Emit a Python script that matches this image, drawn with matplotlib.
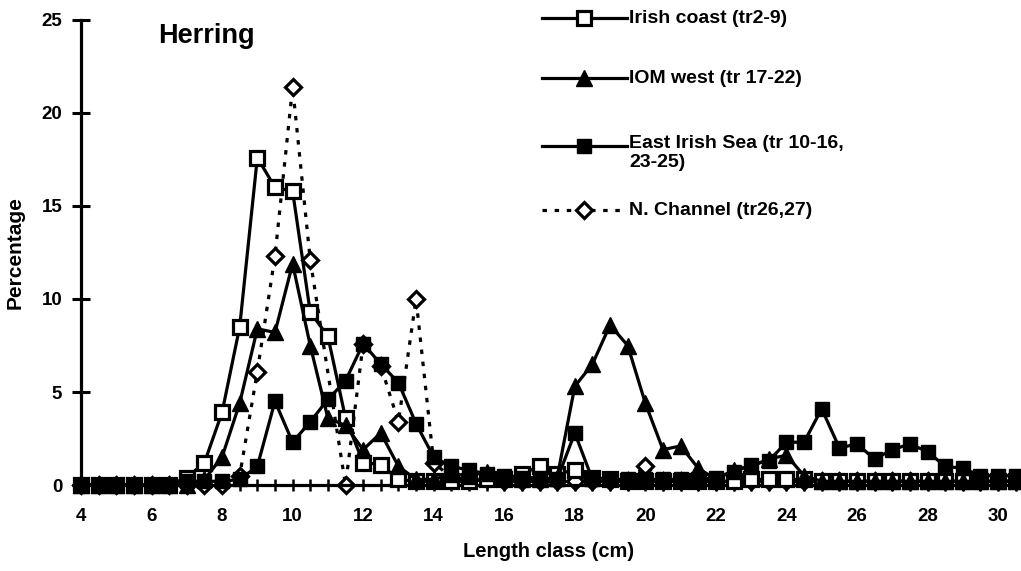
import matplotlib.pyplot as plt
from matplotlib.lines import Line2D

plt.rcParams['font.family'] = ['Liberation Sans', 'DejaVu Sans']
plt.rcParams['font.weight'] = 'bold'

# length classes (cm), half-cm steps
length = [4, 4.5, 5, 5.5, 6, 6.5, 7, 7.5, 8, 8.5,
          9, 9.5, 10, 10.5, 11, 11.5, 12, 12.5, 13, 13.5,
          14, 14.5, 15, 15.5, 16, 16.5, 17, 17.5, 18, 18.5,
          19, 19.5, 20, 20.5, 21, 21.5, 22, 22.5, 23, 23.5,
          24, 24.5, 25, 25.5, 26, 26.5, 27, 27.5, 28, 28.5,
          29, 29.5, 30, 30.5]

irish_coast = [0, 0, 0, 0, 0, 0, 0.4, 1.2, 3.9, 8.5,
               17.6, 16.0, 15.8, 9.3, 8.0, 3.6, 1.2, 1.1, 0.3, 0.2,
               0.2, 0.2, 0.2, 0.3, 0.3, 0.6, 1.0, 0.6, 0.8, 0.4,
               0.3, 0.2, 0.2, 0.2, 0.2, 0.2, 0.2, 0.2, 0.3, 0.3,
               0.3, 0.3, 0.2, 0.2, 0.2, 0.2, 0.2, 0.2, 0.2, 0.2,
               0.2, 0.2, 0.2, 0.2]

iom_west = [0, 0, 0, 0, 0, 0, 0, 0.3, 1.5, 4.4,
            8.4, 8.2, 11.9, 7.5, 3.6, 3.2, 1.9, 2.8, 1.0, 0.3,
            0.3, 0.6, 0.5, 0.7, 0.4, 0.3, 0.3, 0.4, 5.3, 6.5,
            8.6, 7.5, 4.4, 1.9, 2.1, 0.9, 0.3, 0.8, 1.0, 1.4,
            1.6, 0.5, 0.2, 0.2, 0.2, 0.2, 0.2, 0.2, 0.2, 0.2,
            0.2, 0.2, 0.2, 0.2]

east_irish_sea = [0, 0, 0, 0, 0, 0, 0.2, 0.2, 0.2, 0.3,
                  1.0, 4.5, 2.3, 3.4, 4.6, 5.6, 7.6, 6.5, 5.5, 3.3,
                  1.5, 1.0, 0.8, 0.6, 0.5, 0.4, 0.4, 0.3, 2.8, 0.3,
                  0.3, 0.3, 0.3, 0.3, 0.3, 0.3, 0.4, 0.7, 1.1, 1.3,
                  2.3, 2.3, 4.1, 2.0, 2.2, 1.4, 1.9, 2.2, 1.8, 1.0,
                  0.9, 0.5, 0.5, 0.5]

# None = no catch recorded in that class (line joins across it)
n_channel = [0, 0, 0, 0, 0, 0, 0, 0, 0, 0.5,
             6.1, 12.3, 21.4, 12.1, None, 0, 7.6, 6.4, 3.4, 10.0,
             1.2, 0.4, 0.3, 0.3, 0.2, 0.2, 0.2, 0.2, 0.2, 0.2,
             0.2, 0.2, 1.0, 0.2, 0.2, 0.2, 0.2, 0.2, 0.2, 0.2,
             0.2, 0.2, 0.2, 0.2, 0.2, 0.2, 0.2, 0.2, 0.2, 0.2,
             0.2, 0.2, 0.2, 0.2]

labels = ['Irish coast (tr2-9)', 'IOM west (tr 17-22)',
          'East Irish Sea (tr 10-16,\n23-25)', 'N. Channel (tr26,27)']

dotted = (0, (1.4, 2.4))
styles = [
    dict(marker='s', markersize=10, markerfacecolor='white', markeredgewidth=2.3, linestyle='-'),
    dict(marker='^', markersize=11, markerfacecolor='black', markeredgewidth=1, linestyle='-'),
    dict(marker='s', markersize=10, markerfacecolor='black', markeredgewidth=1, linestyle='-'),
    dict(marker='D', markersize=8.5, markerfacecolor='white', markeredgewidth=2.3, linestyle=dotted),
]
series = [irish_coast, iom_west, east_irish_sea, n_channel]
# N. Channel sits underneath the other series
zorders = [3, 4, 5, 2]

fig = plt.figure(figsize=(10.21, 5.71), dpi=100)
ax = fig.add_axes([0.0793, 0.1506, 0.9155, 0.8144])

for vals, st, z in zip(series, styles, zorders):
    xs = [x for x, v in zip(length, vals) if v is not None]
    ys = [v for v in vals if v is not None]
    ax.plot(xs, ys, color='black', linewidth=2.3, markeredgecolor='black',
            clip_on=False, zorder=z, **st)

ax.set_xlim(4, 30.5)
ax.set_ylim(0, 25)
ax.spines['top'].set_visible(False)
ax.spines['right'].set_visible(False)
ax.spines['left'].set_linewidth(2.3)
ax.spines['bottom'].set_linewidth(2.3)

ax.set_xticks(range(4, 31, 2))
ax.set_xticks([x / 2 for x in range(8, 62)], minor=True)
ax.set_yticks(range(0, 26, 5))
ax.tick_params(axis='x', which='both', direction='inout', length=9, width=1.8,
               labelsize=13.5, pad=12)
ax.tick_params(axis='y', direction='inout', length=13, width=2.2, labelsize=13.5, pad=7)

ax.set_xlabel('Length class (cm)', fontsize=14.5, fontweight='bold', labelpad=12)
ax.set_ylabel('Percentage', fontsize=15, fontweight='bold', labelpad=12)
ax.text(0.083, 0.965, 'Herring', transform=ax.transAxes, fontsize=19.5,
        fontweight='bold', va='center', ha='left')

# legend, drawn by hand to keep the wide Excel-like spacing
leg_y = [0.968, 0.863, 0.744, 0.632]
for st, lab, yy in zip(styles, labels, leg_y):
    ln = Line2D([0.531, 0.572, 0.614], [yy, yy, yy], transform=fig.transFigure,
                color='black', linewidth=2.3, markeredgecolor='black', markevery=[1], **st)
    fig.add_artist(ln)
    if '\n' in lab:
        fig.text(0.616, yy + 0.019, lab, fontsize=14, fontweight='bold', va='top',
                 ha='left', linespacing=1.1)
    else:
        fig.text(0.616, yy, lab, fontsize=14, fontweight='bold', va='center', ha='left')

fig.savefig('out.png', dpi=100)
